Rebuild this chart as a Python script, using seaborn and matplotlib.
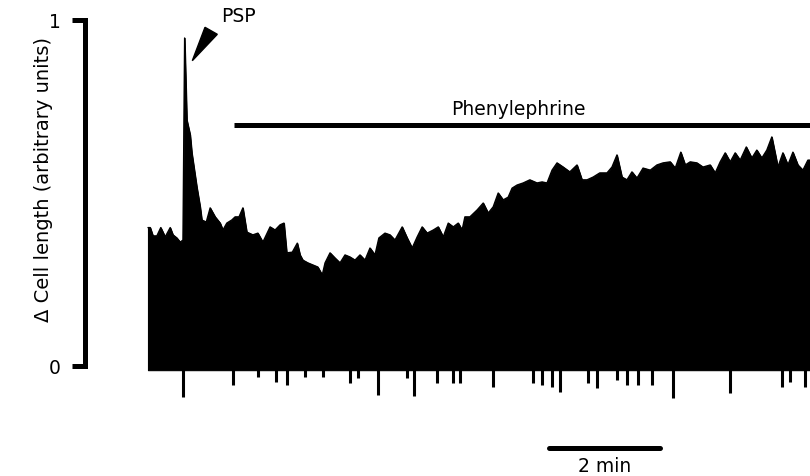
import numpy as np
import matplotlib
matplotlib.use("Agg")
import matplotlib.pyplot as plt
import seaborn as sns
from matplotlib.patches import Polygon

# ---- data (time in min, cell length in arbitrary units) ----
time_min = [0.00, 0.04, 0.09, 0.16, 0.23, 0.31, 0.40, 0.45, 0.52, 0.58, 0.63,
            0.66, 0.70, 0.76, 0.79, 0.88, 0.94, 0.97, 1.05, 1.12, 1.21, 1.30,
            1.35, 1.42, 1.51, 1.57, 1.64, 1.71, 1.78, 1.89, 1.98, 2.07, 2.20,
            2.29, 2.38, 2.45, 2.50, 2.60, 2.69, 2.74, 2.79, 2.88, 2.97, 3.06,
            3.14, 3.19, 3.28, 3.37, 3.46, 3.55, 3.64, 3.73, 3.82, 3.91, 4.00,
            4.09, 4.16, 4.27, 4.36, 4.45, 4.58, 4.67, 4.76, 4.85, 4.94, 5.03,
            5.14, 5.23, 5.32, 5.41, 5.50, 5.59, 5.66, 5.71, 5.80, 5.93, 6.04,
            6.13, 6.22, 6.31, 6.40, 6.49, 6.56, 6.65, 6.76, 6.88, 7.01, 7.10,
            7.19, 7.28, 7.37, 7.48, 7.60, 7.73, 7.82, 7.91, 8.02, 8.14, 8.27,
            8.36, 8.45, 8.54, 8.63, 8.72, 8.81, 8.92, 9.05, 9.17, 9.28, 9.41,
            9.50, 9.60, 9.68, 9.77, 9.89, 10.00, 10.13, 10.22, 10.31, 10.40,
            10.49, 10.58, 10.67, 10.78, 10.88, 10.97, 11.06, 11.15, 11.24,
            11.35, 11.44, 11.53, 11.62, 11.71, 11.80, 11.89, 11.93]
cell_length = [0.40, 0.40, 0.376, 0.376, 0.40, 0.373, 0.40, 0.379, 0.37, 0.358,
               0.364, 0.948, 0.711, 0.668, 0.616, 0.517, 0.46, 0.422, 0.416,
               0.457, 0.431, 0.413, 0.393, 0.413, 0.422, 0.431, 0.431, 0.457,
               0.387, 0.379, 0.384, 0.358, 0.402, 0.393, 0.408, 0.413, 0.327,
               0.329, 0.355, 0.321, 0.306, 0.298, 0.292, 0.286, 0.263, 0.298,
               0.327, 0.312, 0.298, 0.321, 0.315, 0.306, 0.321, 0.306, 0.341,
               0.321, 0.37, 0.384, 0.379, 0.364, 0.402, 0.37, 0.341, 0.373,
               0.402, 0.384, 0.393, 0.402, 0.373, 0.413, 0.402, 0.413, 0.393,
               0.431, 0.431, 0.451, 0.471, 0.442, 0.46, 0.50, 0.48, 0.488,
               0.514, 0.523, 0.529, 0.538, 0.529, 0.532, 0.529, 0.566, 0.587,
               0.575, 0.561, 0.581, 0.538, 0.538, 0.546, 0.558, 0.558, 0.575,
               0.61, 0.546, 0.538, 0.561, 0.543, 0.572, 0.566, 0.581, 0.587,
               0.59, 0.572, 0.618, 0.581, 0.59, 0.587, 0.575, 0.581, 0.558,
               0.59, 0.616, 0.59, 0.616, 0.595, 0.633, 0.601, 0.624, 0.601,
               0.624, 0.662, 0.575, 0.616, 0.581, 0.618, 0.581, 0.566, 0.595,
               0.595]
baseline_level = -0.012

spike_t = [0.63, 1.53, 1.98, 2.31, 2.50, 2.83, 3.15, 3.64, 3.78, 4.14, 4.67,
           4.79, 5.21, 5.50, 5.62, 6.22, 6.94, 7.10, 7.28, 7.42, 7.93, 8.09,
           8.45, 8.63, 8.83, 9.08, 9.46, 10.49, 11.42, 11.57, 11.84]
spike_depth = [-0.090, -0.055, -0.032, -0.046, -0.055, -0.032, -0.032, -0.049,
               -0.035, -0.084, -0.035, -0.087, -0.049, -0.049, -0.049, -0.061,
               -0.049, -0.055, -0.061, -0.075, -0.049, -0.064, -0.040, -0.055,
               -0.055, -0.055, -0.092, -0.078, -0.061, -0.046, -0.061]

drug_label = "Phenylephrine"
drug_span = [1.55, 11.93]
drug_level = 0.697
scale_span = [7.22, 9.22]
scale_level = -0.236
scale_label = "2 min"
psp_label = "PSP"
y_ticks = [0, 1]
y_ticklabels = ["0", "1"]
y_label = "\u0394 Cell length (arbitrary units)"

# ---- figure ----
sns.set_style("white")
plt.rcParams["font.family"] = ["DejaVu Sans"]
plt.rcParams["text.color"] = "black"
plt.rcParams["ytick.color"] = "black"
plt.rcParams["axes.edgecolor"] = "black"
W, H = 810, 476
fig = plt.figure(figsize=(W / 100, H / 100), dpi=100)
ax = fig.add_axes([85 / W, (476 - 469.8) / H, 1 - 85 / W, 467.1 / H])
ax.set_xlim(-1.135, 11.928)
ax.set_ylim(-0.3, 1.05)

ax.fill_between(time_min, baseline_level, cell_length, color="black", lw=0.8)
sns.lineplot(x=time_min, y=cell_length, ax=ax, color="black", lw=1.0,
             estimator=None, sort=False)
ax.vlines(spike_t, spike_depth, 0, color="black", lw=2.2)

ax.plot(drug_span, [drug_level] * 2, color="black", lw=3.6,
        solid_capstyle="butt", clip_on=False)
ax.plot(scale_span, [scale_level] * 2, color="black", lw=3.6,
        solid_capstyle="round", clip_on=False)

# axis styling
for s in ["top", "right", "bottom"]:
    ax.spines[s].set_visible(False)
ax.spines["left"].set_linewidth(3.6)
ax.spines["left"].set_color("black")
ax.spines["left"].set_bounds(0, 1)
ax.set_xticks([])
ax.set_yticks(y_ticks)
ax.set_yticklabels(y_ticklabels, fontsize=13.5, color="black")
ax.tick_params(axis="y", direction="out", length=9.4, width=3.6, pad=8,
               left=True, colors="black")
ax.set_xlabel("")
ax.set_ylabel("")
ax.set_facecolor("none")
fig.patch.set_facecolor("white")

# texts
fig.text(44 / W, 1 - 180 / H, y_label, rotation=90, ha="center", va="center",
         fontsize=14, color="black")
fig.text(238.5 / W, 1 - 22 / H, psp_label, ha="center", va="baseline",
         fontsize=13.5, color="black")
fig.text(518 / W, 1 - 115 / H, drug_label, ha="center", va="baseline",
         fontsize=13.5, color="black")
fig.text(604.5 / W, 1 - 471.5 / H, scale_label, ha="center", va="baseline",
         fontsize=13.5, color="black")

# PSP arrowhead
tri = [(192.3, 60.7), (205, 27.3), (217.3, 34.3)]
fig.patches.append(Polygon([(x / W, 1 - y / H) for x, y in tri], closed=True,
                           facecolor="black", edgecolor="black",
                           transform=fig.transFigure, figure=fig))

fig.savefig("out.png", dpi=100)
